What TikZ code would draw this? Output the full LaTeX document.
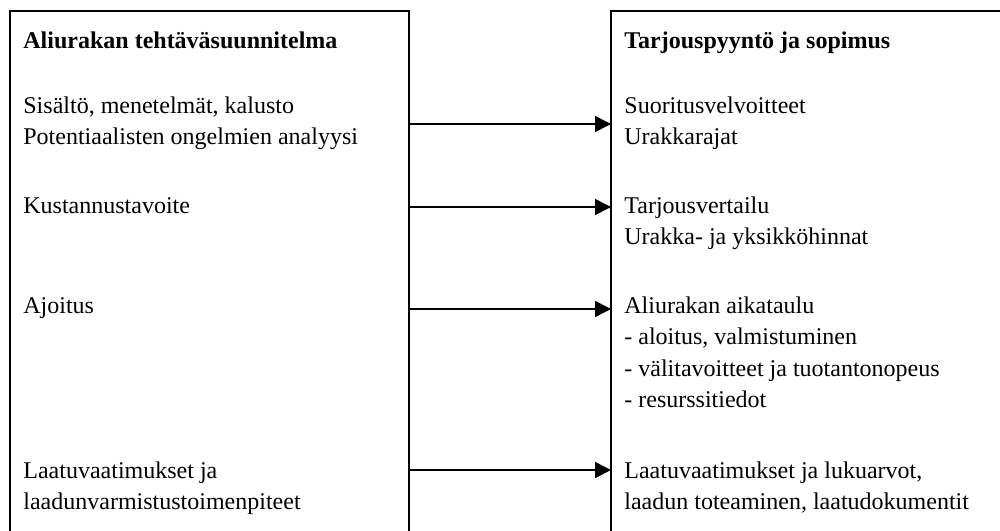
\documentclass[tikz,border=0pt]{standalone}
\usepackage{fontspec}
\setmainfont{Liberation Serif}
\usetikzlibrary{arrows.meta,positioning}
\tikzset{
  box/.style={draw, rectangle, line width=1pt, inner sep=0pt, outer sep=0pt, anchor=north west},
  txt/.style={inner sep=0pt, anchor=base west, font=\fontsize{12}{15.75}\selectfont},
  head/.style={txt, font=\fontsize{12}{15.75}\selectfont\bfseries},
  nextline/.style={txt, below=15.75pt of #1.base west, anchor=base west},
  arr/.style={line width=0.8pt, -{Triangle[length=8pt,width=8pt]}},
}
\begin{document}
\begin{tikzpicture}[x=0.5pt, y=-0.5pt]
\useasboundingbox (0,0) rectangle (1000,530);
\clip (0,0) rectangle (1000,530);
\node[box, minimum width=199.75pt, minimum height=300pt] (L) at (9.5,11) {};
\node[box, minimum width=200pt, minimum height=300pt] (R) at (611,11) {};
% left box
\node[head] (lh) at (23,48) {Aliurakan tehtäväsuunnitelma};
\node[txt] (sis) at (23,113) {Sisältö, menetelmät, kalusto};
\node[nextline=sis] (pot) {Potentiaalisten ongelmien analyysi};
\node[txt] (kus) at (23,213) {Kustannustavoite};
\node[txt] (ajo) at (23,313) {Ajoitus};
\node[txt] (lv1) at (23,478) {Laatuvaatimukset ja};
\node[nextline=lv1] (lv2) {laadunvarmistustoimenpiteet};
% right box
\node[head] (rh) at (624,48) {Tarjouspyyntö ja sopimus};
\node[txt] (suo) at (624,113) {Suoritusvelvoitteet};
\node[nextline=suo] (ura) {Urakkarajat};
\node[txt] (tar) at (624,213) {Tarjousvertailu};
\node[nextline=tar] (yks) {Urakka- ja yksikköhinnat};
\node[txt] (aik) at (624,313) {Aliurakan aikataulu};
\node[nextline=aik] (alo) {- aloitus, valmistuminen};
\node[nextline=alo] (val) {- välitavoitteet ja tuotantonopeus};
\node[nextline=val] (res) {- resurssitiedot};
\node[txt] (lk1) at (624,478) {Laatuvaatimukset ja lukuarvot,};
\node[nextline=lk1] (lk2) {laadun toteaminen, laatudokumentit};
% arrows
\coordinate (a1) at (0,124);
\coordinate (a2) at (0,207);
\coordinate (a3) at (0,309);
\coordinate (a4) at (0,470);
\draw[arr] (a1 -| L.east) -- (a1 -| R.west);
\draw[arr] (a2 -| L.east) -- (a2 -| R.west);
\draw[arr] (a3 -| L.east) -- (a3 -| R.west);
\draw[arr] (a4 -| L.east) -- (a4 -| R.west);
\end{tikzpicture}
\end{document}
